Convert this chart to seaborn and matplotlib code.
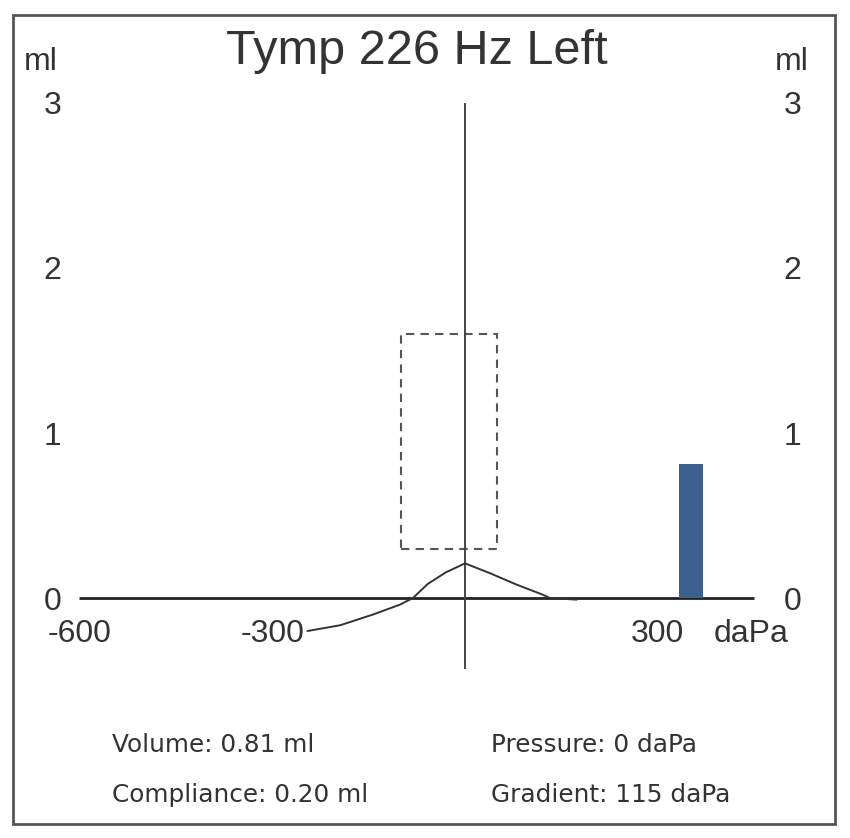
import matplotlib
matplotlib.use("Agg")
import matplotlib.pyplot as plt
import matplotlib.patches as mpatches
import seaborn as sns

# ── data ──
pressure = [-245, -194, -143, -101, -81, -58, -30, 0, 39, 81, 121, 132, 174]
compliance = [-0.20, -0.165, -0.10, -0.04, 0.0, 0.085, 0.155, 0.21, 0.15, 0.08, 0.02, 0.0, -0.01]

y_ticks = [0, 1, 2, 3]
x_ticks = [-600, -300, 300]

norm_box_pressure = [-100, 50]
norm_box_compliance = [0.3, 1.6]

volume_pressure = [351]
volume = [0.81]

stats_left = ["Volume: 0.81 ml", "Compliance: 0.20 ml"]
stats_right = ["Pressure: 0 daPa", "Gradient: 115 daPa"]

# ── style ──
sns.set_style("white")
plt.rcParams['font.family'] = ['Liberation Sans', 'DejaVu Sans']
ink = '#333333'
fs = 23

fig = plt.figure(figsize=(8.5, 8.38), dpi=100)
ax = fig.add_axes([0, 0, 1, 1])
ax.set_xlim(-723.2, 598.8)
ax.set_ylim(-1.4545, 3.6242)
ax.axis('off')

# axes lines
ax.hlines(0, -600, 450, color='#222222', lw=2.0)
ax.vlines(0, -0.43, 3.0, color='#444444', lw=1.4)

# normal region box
x0, x1 = norm_box_pressure
y0, y1 = norm_box_compliance
ax.add_patch(mpatches.Rectangle((x0, y0), x1 - x0, y1 - y0, fill=False,
                                edgecolor='#555555', lw=1.5,
                                linestyle=(0, (4, 3))))

# tympanogram curve
sns.lineplot(x=pressure, y=compliance, ax=ax, color='#333333', lw=1.4,
             sort=False, estimator=None)

# ear canal volume bar
ax.bar(volume_pressure, volume, width=37, color='#3b6190', linewidth=0, zorder=3)

# tick labels
for v in y_ticks:
    ax.text(-642, v, str(v), ha='center', va='center_baseline', fontsize=fs, color=ink)
    ax.text(509, v, str(v), ha='center', va='center_baseline', fontsize=fs, color=ink)
ax.text(-660, 3.267, 'ml', ha='center', va='center_baseline', fontsize=fs, color=ink)
ax.text(508, 3.267, 'ml', ha='center', va='center_baseline', fontsize=fs, color=ink)
for v in x_ticks:
    ax.text(v, -0.194, str(v), ha='center', va='center_baseline', fontsize=fs, color=ink)
ax.text(445, -0.194, 'daPa', ha='center', va='center_baseline', fontsize=fs, color=ink)

# title
fig.text(417 / 850, 1 - 52 / 838, 'Tymp 226 Hz Left', ha='center', va='center',
         fontsize=35, color=ink)

# stats
for i, (a, b) in enumerate(zip(stats_left, stats_right)):
    yy = 1 - (745 + 50 * i) / 838
    fig.text(112 / 850, yy, a, ha='left', va='center', fontsize=17.8,
             color=ink, family=['DejaVu Sans'])
    fig.text(491 / 850, yy, b, ha='left', va='center', fontsize=17.8,
             color=ink, family=['DejaVu Sans'])

# outer frame
fig.patches.append(mpatches.Rectangle((13 / 850, 1 - 824 / 838), 822 / 850, 809 / 838,
                                      transform=fig.transFigure, fill=False,
                                      edgecolor='#555555', lw=2))

plt.savefig('out.png', dpi=100)
